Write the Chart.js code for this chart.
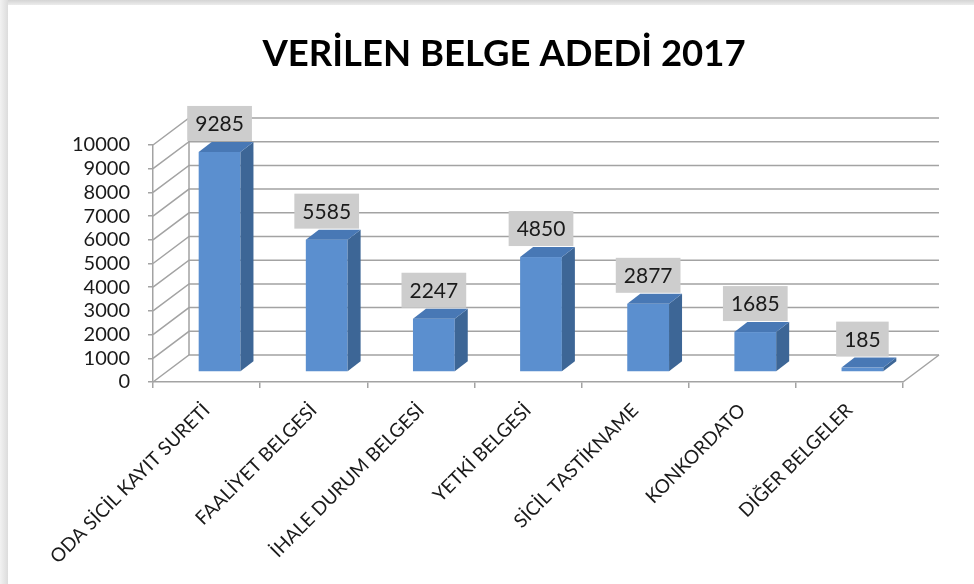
<!DOCTYPE html>
<html>
<head>
<meta charset="utf-8">
<script src="https://cdn.jsdelivr.net/npm/chart.js@4"></script>
<style>
  html, body { margin: 0; padding: 0; background: #fff; overflow: hidden; width: 974px; height: 584px; }
  #topEdge { position: absolute; left: 0; top: 0; width: 974px; height: 5px;
             background: linear-gradient(#d4d4d4, #ececec); }
  #leftEdge { position: absolute; left: 0; top: 0; width: 8px; height: 584px;
              background: linear-gradient(to right, #f2f2f2, #dcdcdc); }
  #wrap { position: absolute; left: 0; top: 0; width: 974px; height: 584px; }
</style>
</head>
<body>
<div id="topEdge"></div>
<div id="leftEdge"></div>
<div id="wrap"><canvas id="chart" width="974" height="584"></canvas></div>
<script>
const titleText = 'VERİLEN BELGE ADEDİ 2017';
const categories = ['ODA SİCİL KAYIT SURETİ', 'FAALİYET BELGESİ', 'İHALE DURUM BELGESİ', 'YETKİ BELGESİ',
    'SİCİL TASTİKNAME', 'KONKORDATO', 'DİĞER BELGELER'];
const values = [9285, 5585, 2247, 4850, 2877, 1685, 185];
const yTicks = [0, 1000, 2000, 3000, 4000, 5000, 6000, 7000, 8000, 9000, 10000];

const gridColor = '#a3a3a3';
const wallDx = 36, wallDy = -27;   // back wall offset
const barOx = 13, barOy = -10;     // bar front face offset from front plane
const depthDx = 13, depthDy = -10; // bar depth

// back wall, oblique gridlines, 3D bars, labels and title
const wallPlugin = {
    id: 'wall',
    beforeDatasetsDraw(chart) {
        const { ctx, chartArea: a, scales: { y } } = chart;
        ctx.save();
        ctx.strokeStyle = gridColor;
        ctx.lineWidth = 1.5;
        yTicks.forEach(v => {
            const py = y.getPixelForValue(v);
            ctx.beginPath();
            ctx.moveTo(a.left, py);
            ctx.lineTo(a.left + wallDx, py + wallDy);
            ctx.lineTo(a.right + wallDx, py + wallDy);
            ctx.stroke();
        });
        ctx.beginPath();
        ctx.moveTo(a.left + wallDx, a.top + wallDy);
        ctx.lineTo(a.left + wallDx, a.bottom + wallDy);
        ctx.moveTo(a.right, a.bottom);
        ctx.lineTo(a.right + wallDx, a.bottom + wallDy);
        ctx.stroke();
        ctx.restore();
    },
    afterDatasetsDraw(chart) {
        const { ctx } = chart;
        const meta = chart.getDatasetMeta(0);
        ctx.save();
        meta.data.forEach((bar, i) => {
            const L = bar.x - bar.width / 2 + barOx, R = bar.x + bar.width / 2 + barOx;
            const T = bar.y + barOy, B = bar.base + barOy;
            // front
            ctx.fillStyle = '#5b8fcf';
            ctx.fillRect(L, T, R - L, B - T);
            // side
            ctx.fillStyle = '#3d6696';
            ctx.beginPath();
            ctx.moveTo(R, T); ctx.lineTo(R + depthDx, T + depthDy);
            ctx.lineTo(R + depthDx, B + depthDy); ctx.lineTo(R, B);
            ctx.closePath(); ctx.fill();
            // top
            ctx.fillStyle = '#4878b5';
            ctx.beginPath();
            ctx.moveTo(L, T); ctx.lineTo(R, T);
            ctx.lineTo(R + depthDx, T + depthDy); ctx.lineTo(L + depthDx, T + depthDy);
            ctx.closePath(); ctx.fill();
            // data label
            ctx.font = '21px Lato';
            const txt = String(values[i]);
            const tw = ctx.measureText(txt).width;
            const cx = (L + R) / 2;
            const bh = 35, bw = tw + 16;
            const by = T + depthDy - 1 - bh;
            ctx.fillStyle = '#cdcdcd';
            ctx.fillRect(cx - bw / 2, by, bw, bh);
            ctx.fillStyle = '#1a1a1a';
            ctx.textAlign = 'center';
            ctx.textBaseline = 'middle';
            ctx.fillText(txt, cx, by + bh / 2 + 1);
        });
        // title
        ctx.font = 'bold 36.5px Lato';
        ctx.fillStyle = '#000';
        ctx.textAlign = 'center';
        ctx.textBaseline = 'middle';
        ctx.fillText(titleText, 504, 54);
        ctx.restore();
    }
};

new Chart(document.getElementById('chart').getContext('2d'), {
    type: 'bar',
    data: {
        labels: categories,
        datasets: [{
            data: values,
            backgroundColor: 'rgba(0,0,0,0)',
            barPercentage: 0.39,
            categoryPercentage: 1
        }]
    },
    options: {
        responsive: false,
        animation: false,
        layout: { padding: { left: 0, right: 71, top: 145, bottom: 0 } },
        plugins: { legend: { display: false }, tooltip: { enabled: false } },
        scales: {
            x: {
                afterFit(scale) { scale.height = 202; },
                grid: { display: true, drawOnChartArea: false, offset: true, tickLength: 6, color: gridColor, lineWidth: 1.5 },
                border: { color: gridColor, width: 1.5 },
                ticks: { color: '#1a1a1a', font: { family: 'Lato', size: 19 }, minRotation: 45, maxRotation: 45, autoSkip: false, padding: 11 }
            },
            y: {
                min: 0, max: 10000,
                afterFit(scale) { scale.width = 153; },
                grid: { display: true, drawOnChartArea: false, tickLength: 5, color: gridColor, lineWidth: 1.5 },
                border: { color: gridColor, width: 1.5 },
                ticks: { color: '#1a1a1a', font: { family: 'Lato', size: 20 }, padding: 18,
                         stepSize: 1000, autoSkip: false, callback: v => String(v) }
            }
        }
    },
    plugins: [wallPlugin]
});
</script>
</body>
</html>
